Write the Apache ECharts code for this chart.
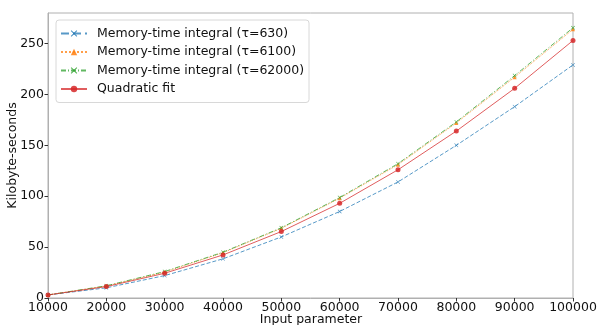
<!DOCTYPE html>
<html>
<head>
<meta charset="utf-8">
<script src="https://cdn.jsdelivr.net/npm/echarts@6/dist/echarts.min.js"></script>
<style>
  html, body { margin: 0; padding: 0; background: #fff; }
  #main { width: 598px; height: 325px; }
</style>
</head>
<body>
<div id="main"></div>
<script>
// input parameter values
var inputs = [10000, 20000, 30000, 40000, 50000, 60000, 70000, 80000, 90000, 100000];
// kilobyte-seconds per series
var tau630 = [3, 10, 22, 38.5, 60, 85, 114, 150, 188, 229];
var tau6100 = [3, 11.8, 25.5, 44.5, 68.5, 98, 131, 172, 217, 264];
var tau62000 = [3, 12, 26, 45, 69, 98.7, 132, 173, 218.5, 265.5];
var quadFit = [3, 11.2, 24.3, 42.3, 65.3, 93, 126, 164, 206, 253];
var yTicks = [0, 50, 100, 150, 200, 250];

var font = 'DejaVu Sans';
var xShape = 'path://M0,1L1,0L5,4L9,0L10,1L6,5L10,9L9,10L5,6L1,10L0,9L4,5Z';

function pairs(vals) {
  return inputs.map(function (x, i) { return [x, vals[i]]; });
}

function mkSeries(name, vals, color, lineType, symbol, size) {
  return {
    name: name,
    type: 'line',
    data: pairs(vals),
    symbol: symbol,
    symbolSize: size,
    showAllSymbol: true,
    lineStyle: { color: color, width: 1, type: lineType, opacity: 0.75 },
    itemStyle: { color: color, opacity: 0.85 },
    emphasis: { disabled: true }
  };
}

var chart = echarts.init(document.getElementById('main'));
var option = {
  backgroundColor: '#ffffff',
  animation: false,
  textStyle: { fontFamily: font },
  grid: { left: 48, right: 25, top: 13, bottom: 27, outerBoundsMode: 'none' },
  legend: {
    orient: 'vertical',
    left: 56,
    top: 20,
    itemWidth: 26,
    itemHeight: 8,
    itemGap: 5.5,
    padding: [7, 5, 7, 4],
    borderColor: '#d8d8d8',
    borderWidth: 1,
    borderRadius: 3,
    backgroundColor: 'rgba(255,255,255,0.8)',
    textStyle: { fontFamily: font, fontSize: 12.5, color: '#111', padding: [0, 0, 0, 5] },
    data: ['Memory-time integral (τ=630)', 'Memory-time integral (τ=6100)',
           'Memory-time integral (τ=62000)', 'Quadratic fit']
  },
  xAxis: {
    type: 'value',
    min: 10000,
    max: 100000,
    interval: 10000,
    axisLine: { lineStyle: { color: '#b0b0b0', width: 1 } },
    axisTick: { show: true, length: 3.5, lineStyle: { color: '#333' } },
    axisLabel: {
      fontFamily: font, fontSize: 12.5, color: '#111', margin: 3,
      formatter: function (v) { return String(v); }
    },
    splitLine: { show: false }
  },
  yAxis: {
    type: 'value',
    min: 0,
    max: 280,
    interval: 50,
    name: 'Kilobyte-seconds',
    nameLocation: 'middle',
    nameGap: 29,
    nameMoveOverlap: false,
    nameTextStyle: { fontFamily: font, fontSize: 12.5, color: '#111' },
    axisLine: { show: true, lineStyle: { color: '#b0b0b0', width: 1 } },
    axisTick: { show: true, length: 3.5, lineStyle: { color: '#333' } },
    axisLabel: {
      fontFamily: font, fontSize: 12.5, color: '#111', margin: 4,
      showMaxLabel: false,
      formatter: function (v) { return yTicks.indexOf(v) >= 0 ? String(v) : ''; }
    },
    splitLine: { show: false }
  },
  series: [
    mkSeries('Memory-time integral (τ=630)', tau630, '#1f77b4', 'dashed', xShape, 4),
    mkSeries('Memory-time integral (τ=6100)', tau6100, '#ff7f0e', 'dotted', 'triangle', 4),
    mkSeries('Memory-time integral (τ=62000)', tau62000, '#2ca02c', [5, 2, 1, 2], xShape, 4),
    mkSeries('Quadratic fit', quadFit, '#d62728', 'solid', 'circle', 5)
  ]
};
// frame on top and right, plus the x axis title cut off at the bottom edge
option.graphic = [{
  type: 'rect',
  shape: { x: 48, y: 13, width: 525, height: 285 },
  style: { fill: 'none', stroke: '#b0b0b0', lineWidth: 1 },
  silent: true,
  z: 0
}, {
  type: 'text',
  x: 311,
  y: 313,
  style: {
    text: 'Input parameter',
    font: '12.5px "DejaVu Sans"',
    fill: '#111',
    textAlign: 'center',
    textVerticalAlign: 'top'
  },
  silent: true
}];
chart.setOption(option);
</script>
</body>
</html>
